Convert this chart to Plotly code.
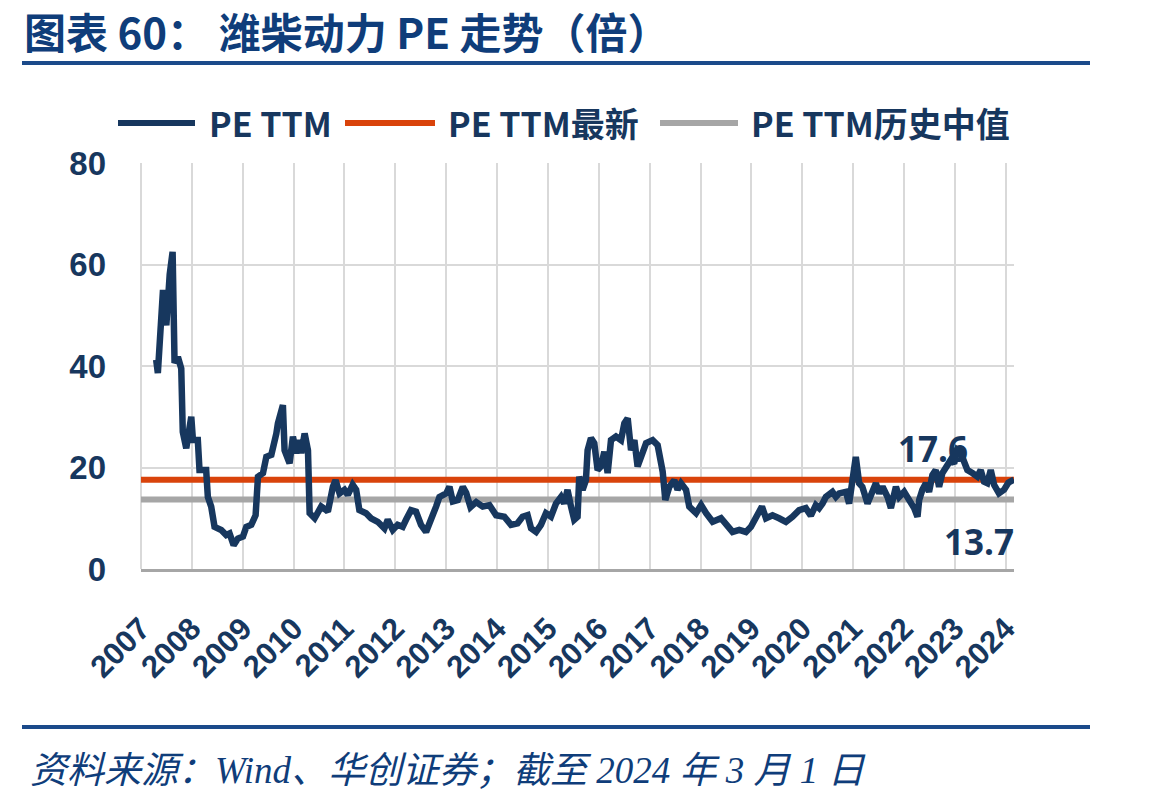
import plotly.graph_objects as go

# ---------------- data ----------------
dates = [
    "2007-04-20", "2007-05-02", "2007-06-08", "2007-07-02", "2007-07-26", "2007-08-16",
    "2007-08-30", "2007-09-23", "2007-10-17", "2007-10-28", "2007-11-22", "2007-12-28",
    "2008-01-09", "2008-02-13", "2008-02-25", "2008-04-13", "2008-04-25", "2008-05-19",
    "2008-06-12", "2008-07-30", "2008-09-04", "2008-09-28", "2008-10-27", "2008-11-27",
    "2009-01-02", "2009-01-26", "2009-03-03", "2009-04-03", "2009-04-20", "2009-05-26",
    "2009-06-19", "2009-07-25", "2009-08-30", "2009-09-10", "2009-10-16", "2009-10-28",
    "2009-12-03", "2009-12-27", "2010-01-20", "2010-02-13", "2010-02-25", "2010-03-21",
    "2010-04-14", "2010-04-26", "2010-06-01", "2010-07-18", "2010-08-23", "2010-09-04",
    "2010-10-10", "2010-10-29", "2010-11-27", "2011-01-01", "2011-01-25", "2011-03-01",
    "2011-03-26", "2011-04-18", "2011-06-05", "2011-07-11", "2011-08-28", "2011-10-15",
    "2011-11-08", "2011-12-14", "2012-01-18", "2012-02-23", "2012-03-18", "2012-04-23",
    "2012-05-29", "2012-07-04", "2012-08-09", "2012-09-02", "2012-09-26", "2012-10-20",
    "2012-11-13", "2013-01-01", "2013-01-24", "2013-02-17", "2013-03-25", "2013-04-30",
    "2013-05-24", "2013-06-24", "2013-08-04", "2013-09-20", "2013-11-07", "2013-12-25",
    "2014-02-22", "2014-04-11", "2014-05-28", "2014-07-03", "2014-08-08", "2014-09-02",
    "2014-10-08", "2014-11-12", "2014-12-18", "2015-01-23", "2015-02-28", "2015-04-05",
    "2015-04-28", "2015-05-22", "2015-06-16", "2015-07-09", "2015-08-02", "2015-08-14",
    "2015-09-07", "2015-10-01", "2015-10-13", "2015-11-06", "2015-11-30", "2015-12-24",
    "2016-01-17", "2016-02-10", "2016-03-05", "2016-03-29", "2016-05-04", "2016-06-09",
    "2016-07-03", "2016-07-27", "2016-08-20", "2016-09-13", "2016-10-06", "2016-12-06",
    "2017-01-22", "2017-02-27", "2017-04-04", "2017-04-23", "2017-05-22", "2017-06-27",
    "2017-07-20", "2017-08-14", "2017-09-19", "2017-10-12", "2017-11-30", "2018-01-05",
    "2018-02-10", "2018-03-29", "2018-05-28", "2018-07-02", "2018-08-19", "2018-10-06",
    "2018-11-23", "2018-12-29", "2019-02-03", "2019-03-18", "2019-04-16", "2019-06-02",
    "2019-07-19", "2019-09-06", "2019-10-23", "2019-12-10", "2020-01-27", "2020-03-03",
    "2020-04-08", "2020-05-02", "2020-05-26", "2020-06-19", "2020-08-05", "2020-08-30",
    "2020-09-23", "2020-10-16", "2020-11-10", "2020-12-03", "2020-12-27", "2021-01-20",
    "2021-02-13", "2021-03-08", "2021-04-14", "2021-05-08", "2021-06-13", "2021-07-07",
    "2021-07-31", "2021-09-05", "2021-09-29", "2021-11-04", "2021-11-28", "2022-01-02",
    "2022-02-07", "2022-03-15", "2022-04-08", "2022-04-20", "2022-05-13", "2022-06-07",
    "2022-06-30", "2022-07-24", "2022-08-17", "2022-09-10", "2022-10-04", "2022-10-28",
    "2022-12-03", "2022-12-27", "2023-01-19", "2023-02-13", "2023-03-08", "2023-04-01",
    "2023-05-07", "2023-06-12", "2023-07-06", "2023-07-30", "2023-08-22", "2023-09-16",
    "2023-10-10", "2023-11-14", "2023-12-20", "2024-01-20", "2024-03-01",
]
pe_ttm = [
    41.2, 38.6, 55.0, 48.0, 58.0, 62.5,
    40.6, 41.8, 39.5, 27.0, 23.8, 30.0,
    25.4, 25.4, 19.5, 19.5, 14.2, 12.3,
    8.3, 7.7, 6.7, 7.0, 4.7, 6.0,
    6.4, 8.3, 8.7, 10.6, 18.2, 18.9,
    22.1, 22.5, 26.7, 28.7, 32.3, 23.4,
    20.8, 26.1, 22.8, 25.4, 22.8, 26.7,
    23.4, 11.0, 10.0, 12.3, 11.6, 11.3,
    16.2, 17.5, 14.9, 15.6, 14.6, 16.6,
    15.6, 11.6, 11.0, 10.0, 9.3, 8.0,
    9.7, 7.7, 8.7, 8.3, 9.7, 11.6,
    11.3, 8.7, 7.3, 9.3, 10.3, 12.3,
    14.2, 14.9, 16.2, 13.3, 13.6, 16.2,
    15.0, 12.2, 13.2, 12.3, 12.6, 10.6,
    10.3, 8.7, 9.0, 10.3, 10.6, 8.0,
    7.3, 8.7, 11.0, 10.3, 12.9, 14.2,
    12.9, 15.6, 12.3, 9.7, 10.3, 18.2,
    15.6, 17.5, 23.4, 25.8, 24.8, 19.5,
    20.2, 23.1, 18.9, 25.4, 26.1, 25.4,
    28.7, 29.7, 23.4, 25.4, 20.2, 24.8,
    25.4, 24.4, 19.2, 13.6, 16.2, 17.5,
    15.6, 16.9, 15.6, 12.3, 11.0, 12.6,
    11.0, 9.3, 10.0, 8.7, 7.3, 7.7,
    7.3, 8.3, 10.0, 12.3, 10.0, 10.6,
    10.0, 9.3, 10.3, 11.6, 12.0, 10.5,
    12.6, 12.0, 12.9, 14.2, 15.2, 14.2,
    14.9, 15.2, 15.2, 12.9, 17.5, 22.1,
    16.9, 16.2, 12.9, 14.9, 16.9, 14.9,
    16.2, 14.2, 12.0, 16.2, 14.2, 15.2,
    13.6, 12.0, 10.3, 13.6, 15.6, 16.9,
    15.2, 18.5, 19.5, 16.2, 18.9, 20.2,
    21.5, 20.8, 23.4, 22.8, 21.5, 19.5,
    18.9, 18.2, 19.5, 17.2, 16.9, 19.5,
    16.6, 14.9, 15.6, 17.0, 17.6,
]
pe_latest = 17.6
pe_median = 13.7
x_start, x_end = "2007-01-01", "2024-03-01"
year_ticks = [f"{y}-01-01" for y in range(2007, 2025)]
series_names = ["PE TTM", "PE TTM最新", "PE TTM历史中值"]

title_text = "图表 60：&nbsp;潍柴动力 PE 走势（倍）"
source_text = "资料来源：Wind、华创证券；截至 2024 年 3 月 1 日"

# ---------------- style ----------------
NAVY = "#17375E"
ORANGE = "#D9430B"
GRAY = "#A6A6A6"
GRID = "#D9D9D9"
TITLE_BLUE = "#0F3D7A"
RULE_BLUE = "#1B4A8A"

fig = go.Figure()
fig.add_trace(go.Scatter(x=[x_start, x_end], y=[pe_median, pe_median], mode="lines",
                         line=dict(color=GRAY, width=6), name=series_names[2],
                         showlegend=False, hoverinfo="skip"))
fig.add_trace(go.Scatter(x=[x_start, x_end], y=[pe_latest, pe_latest], mode="lines",
                         line=dict(color=ORANGE, width=6), name=series_names[1],
                         showlegend=False, hoverinfo="skip"))
fig.add_trace(go.Scatter(x=dates, y=pe_ttm, mode="lines",
                         line=dict(color=NAVY, width=6.5, shape="linear"),
                         name=series_names[0], showlegend=False))

W, H = 1149, 801
L, R, T, B = 141, 135, 163, 232
pw, ph = W - L - R, H - T - B


def px(xp):
    return (xp - L) / pw


def py(yp):
    return (H - B - yp) / ph


shapes = []
annotations = []

# title + rules
annotations.append(dict(text=f"<b>{title_text}</b>", xref="paper", yref="paper",
                        x=px(22), y=py(31), xanchor="left", yanchor="middle",
                        showarrow=False,
                        font=dict(family="Noto Sans CJK SC", size=42, color=TITLE_BLUE)))
shapes.append(dict(type="line", xref="paper", yref="paper", x0=px(22), x1=px(1090),
                   y0=py(63), y1=py(63), line=dict(color=RULE_BLUE, width=4)))
shapes.append(dict(type="line", xref="paper", yref="paper", x0=px(22), x1=px(1090),
                   y0=py(727), y1=py(727), line=dict(color=RULE_BLUE, width=4)))
annotations.append(dict(text=f"<i>{source_text}</i>", xref="paper", yref="paper",
                        x=px(28), y=py(770), xanchor="left", yanchor="middle",
                        showarrow=False,
                        font=dict(family="Liberation Serif, Noto Sans CJK SC", size=37,
                                  color=TITLE_BLUE)))

# custom legend
leg_y = py(123)
legend_items = [
    (series_names[0], NAVY, 118, 195, 207),
    (series_names[1], ORANGE, 345, 435, 446),
    (series_names[2], GRAY, 660, 738, 749),
]
for name, col, x0, x1, xt in legend_items:
    shapes.append(dict(type="line", xref="paper", yref="paper", x0=px(x0), x1=px(x1),
                       y0=leg_y, y1=leg_y, line=dict(color=col, width=6)))
    annotations.append(dict(text=f"<b>{name}</b>", xref="paper", yref="paper",
                            x=px(xt), y=leg_y, xanchor="left", yanchor="middle",
                            showarrow=False,
                            font=dict(family="Noto Sans CJK SC", size=34, color=NAVY)))

# value labels
annotations.append(dict(text=f"<b>{pe_latest:.1f}</b>", xref="paper", yref="paper",
                        x=px(933), y=py(448), xanchor="center", yanchor="middle",
                        showarrow=False,
                        font=dict(family="Open Sans", size=35, color=NAVY)))
annotations.append(dict(text=f"<b>{pe_median:.1f}</b>", xref="paper", yref="paper",
                        x=px(979), y=py(541), xanchor="center", yanchor="middle",
                        showarrow=False,
                        font=dict(family="Open Sans", size=35, color=NAVY)))

# left vertical grid border
shapes.append(dict(type="line", xref="paper", yref="paper", x0=0, x1=0, y0=0, y1=1,
                   line=dict(color=GRID, width=2), layer="below"))

fig.update_layout(
    width=W, height=H, autosize=False,
    margin=dict(l=L, r=R, t=T, b=B),
    paper_bgcolor="white", plot_bgcolor="white",
    showlegend=False,
    shapes=shapes, annotations=annotations,
    xaxis=dict(type="date", range=[x_start, x_end], tickvals=year_ticks,
               tickformat="%Y", tickangle=-45, showgrid=True, gridcolor=GRID,
               gridwidth=2, showline=True, linecolor=GRAY, linewidth=3,
               zeroline=False, ticks="", ticklabelstandoff=26,
               tickfont=dict(family="Liberation Sans", size=31, color=NAVY,
                             weight="bold")),
    yaxis=dict(range=[0, 80], dtick=20, showgrid=True, gridcolor=GRID, gridwidth=2,
               zeroline=False, showline=False, ticks="", ticklabelstandoff=34,
               tickfont=dict(family="Liberation Sans", size=33, color=NAVY,
                             weight="bold")),
)

fig.write_html("out.html")
